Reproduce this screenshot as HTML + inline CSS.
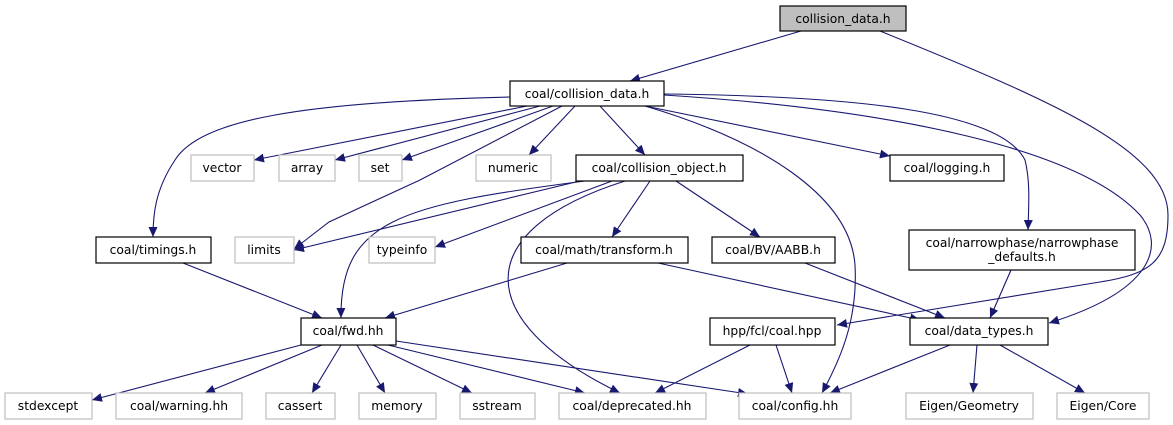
<!DOCTYPE html>
<html><head><meta charset="utf-8"><style>
html,body{margin:0;padding:0;background:#fff;}
svg{display:block;}
text{font-family:"DejaVu Sans","Liberation Sans",sans-serif;font-size:12.3px;fill:#000;}
.n{fill:#fff;stroke:#000;stroke-width:1.2;}
.g{fill:#fff;stroke:#bfbfbf;stroke-width:1.2;}
.e{fill:none;stroke:#191970;stroke-width:1.1;}
</style></head><body>
<svg width="1173" height="425" viewBox="0 0 1173 425" xmlns="http://www.w3.org/2000/svg">
<defs><marker id="a" markerUnits="userSpaceOnUse" markerWidth="11" markerHeight="9" refX="10" refY="4.5" orient="auto"><path d="M0,0 L10,4.5 L0,9 Z" fill="#191970"/></marker></defs>
<g class="e" marker-end="url(#a)">
<path d="M801,31 L630,81"/>
<path d="M880,31 C1050,100 1168,150 1168,215 C1168,262 1150,274 1100,282 L837,325"/>
<path d="M527,106 L254,160"/>
<path d="M540,106 L335,160"/>
<path d="M553,106 L402,160"/>
<path d="M562,106 L420,180 L329,222 L294,249"/>
<path d="M575,106 L529,155"/>
<path d="M510,97 C300,102 200,120 175,160 C155,190 153,215 153,237"/>
<path d="M600,106 L645,155"/>
<path d="M645,106 L890,156"/>
<path d="M645,106 C760,140 850,195 855,265 C858,320 840,360 822,393"/>
<path d="M664,94 C850,96 1000,110 1025,160 C1030,180 1029,200 1028,230"/>
<path d="M664,95 C900,110 1080,150 1140,215 C1165,245 1155,290 1049,323"/>
<path d="M585,181 C400,205 340,220 341,318"/>
<path d="M580,181 L294,250"/>
<path d="M612,181 L435,247"/>
<path d="M625,181 C470,230 470,320 620,393"/>
<path d="M650,181 L612,237"/>
<path d="M676,181 L760,237"/>
<path d="M183,263 L322,318"/>
<path d="M567,263 L385,318"/>
<path d="M658,263 L920,320"/>
<path d="M805,263 L945,318"/>
<path d="M1011,270 L990,318"/>
<path d="M750,345 L655,393"/>
<path d="M776,345 L792,393"/>
<path d="M950,345 L830,393"/>
<path d="M977,345 L973,393"/>
<path d="M1000,345 L1085,393"/>
<path d="M301,345 L92,400"/>
<path d="M322,345 L205,393"/>
<path d="M341,345 L312,393"/>
<path d="M357,345 L385,393"/>
<path d="M373,345 L472,393"/>
<path d="M388,345 L585,393"/>
<path d="M396,341 L748,394"/>
</g>
<g text-anchor="middle">
<rect x="780" y="6" width="126" height="25" fill="#bfbfbf" stroke="#000" stroke-width="1.2"/><text x="843" y="23">collision_data.h</text>
<rect class="n" x="510" y="81" width="154" height="25"/><text x="587" y="98">coal/collision_data.h</text>
<rect class="g" x="191" y="155" width="63" height="26"/><text x="222" y="172">vector</text>
<rect class="g" x="279" y="155" width="56" height="26"/><text x="307" y="172">array</text>
<rect class="g" x="359" y="155" width="43" height="26"/><text x="380" y="172">set</text>
<rect class="g" x="476" y="155" width="75" height="26"/><text x="513" y="172">numeric</text>
<rect class="n" x="576" y="155" width="167" height="26"/><text x="659" y="172">coal/collision_object.h</text>
<rect class="n" x="890" y="155" width="114" height="26"/><text x="947" y="172">coal/logging.h</text>
<rect class="n" x="96" y="237" width="115" height="26"/><text x="153" y="254">coal/timings.h</text>
<rect class="g" x="235" y="237" width="59" height="26"/><text x="264" y="254">limits</text>
<rect class="g" x="369" y="237" width="66" height="26"/><text x="402" y="254">typeinfo</text>
<rect class="n" x="521" y="237" width="167" height="26"/><text x="604" y="254">coal/math/transform.h</text>
<rect class="n" x="712" y="237" width="123" height="26"/><text x="773" y="254">coal/BV/AABB.h</text>
<rect class="n" x="909" y="230" width="226" height="40"/><text x="1022" y="247">coal/narrowphase/narrowphase</text><text x="1022" y="261">_defaults.h</text>
<rect class="n" x="301" y="318" width="95" height="27"/><text x="348" y="335">coal/fwd.hh</text>
<rect class="n" x="710" y="318" width="125" height="27"/><text x="772" y="335">hpp/fcl/coal.hpp</text>
<rect class="n" x="910" y="318" width="138" height="27"/><text x="979" y="335">coal/data_types.h</text>
<rect class="g" x="5" y="393" width="87" height="26"/><text x="48" y="410">stdexcept</text>
<rect class="g" x="116" y="393" width="126" height="26"/><text x="179" y="410">coal/warning.hh</text>
<rect class="g" x="266" y="393" width="69" height="26"/><text x="300" y="410">cassert</text>
<rect class="g" x="359" y="393" width="77" height="26"/><text x="397" y="410">memory</text>
<rect class="g" x="460" y="393" width="75" height="26"/><text x="497" y="410">sstream</text>
<rect class="g" x="559" y="393" width="147" height="26"/><text x="632" y="410">coal/deprecated.hh</text>
<rect class="g" x="739" y="393" width="112" height="26"/><text x="795" y="410">coal/config.hh</text>
<rect class="g" x="906" y="393" width="127" height="26"/><text x="969" y="410">Eigen/Geometry</text>
<rect class="g" x="1057" y="393" width="92" height="26"/><text x="1103" y="410">Eigen/Core</text>
</g>
</svg>
</body></html>
